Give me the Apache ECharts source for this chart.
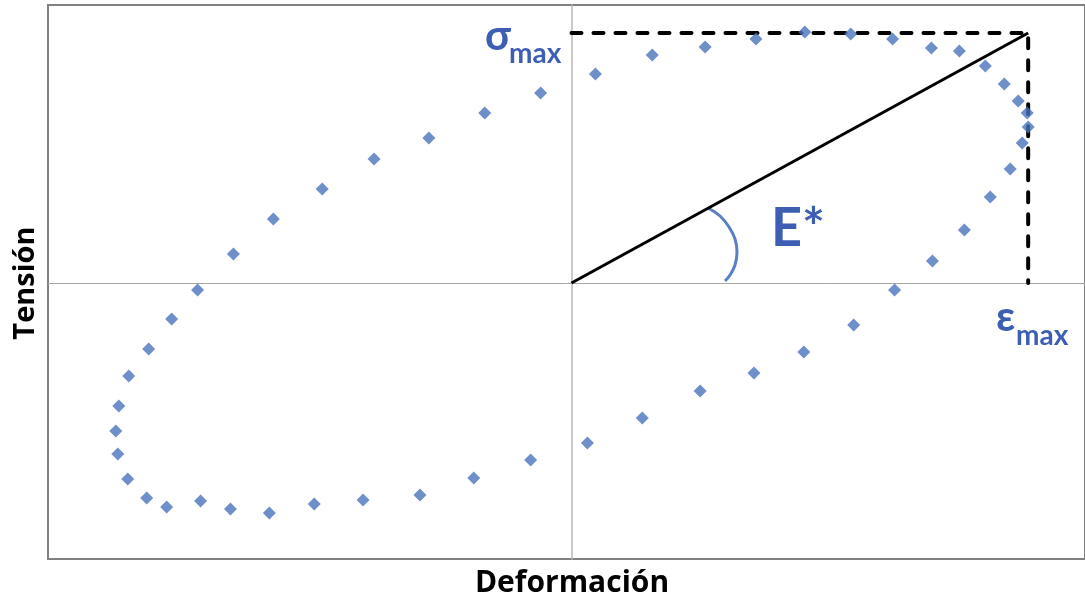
<!DOCTYPE html>
<html>
<head>
<meta charset="utf-8">
<script src="https://cdn.jsdelivr.net/npm/echarts@6/dist/echarts.min.js"></script>
<style>html,body{margin:0;padding:0;background:#fff}#c{width:1085px;height:600px}</style>
</head>
<body>
<div id="c"></div>
<script>
// Hysteresis loop points (deformación, tensión) in chart units
const loopX = [24,81,134,185,234,280,322,361,389,415,434,448,457,458,452,440,420,394,362,324,283,233,183,129,71,16,-41,-98,-152,-209,-258,-303,-342,-372,-406,-426,-445,-455,-457,-454,-444,-424,-401,-375,-339,-299,-250,-198,-143,-87,-31];
const loopY = [209,228,236,244,251,249,244,235,232,217,199,182,170,156,140,114,86,53,22,-7,-42,-69,-90,-108,-135,-160,-177,-195,-212,-217,-221,-230,-226,-218,-224,-215,-196,-171,-148,-123,-93,-66,-36,-7,29,64,94,124,145,170,190];
const epsMax = 458;
const sigmaMax = 250;
// Angle arc (E*) points
const arcX = [137,149,158,164,166,164,159,154];
const arcY = [75,67,56,44,31,18,8,2];
// Axis ranges
const xMin = -525, xMax = 515;
const yMin = -276, yMax = 278;
// Texts
const xTitle = 'Deformación';
const yTitle = 'Tensión';

const blue = '#4a73bd';
const txtBlue = '#3d5fb3';

const loopData = loopX.map((x,i)=>[x, loopY[i]]);
const arcData = arcX.map((x,i)=>[x, arcY[i]]);

const chart = echarts.init(document.getElementById('c'), null, {renderer:'canvas'});
const font = 'Lato, "Open Sans", sans-serif';
const tfont = '"Open Sans", sans-serif';
chart.setOption({
  animation:false,
  backgroundColor:'#fff',
  grid:{left:48, right:-3, top:5, bottom:41, show:true, borderColor:'#808080', borderWidth:2},
  xAxis:{type:'value', min:xMin, max:xMax,
    axisLine:{show:true, onZero:true, lineStyle:{color:'#a6a6a6', width:1}},
    axisTick:{show:false}, axisLabel:{show:false}, splitLine:{show:false}},
  yAxis:{type:'value', min:yMin, max:yMax,
    axisLine:{show:true, onZero:true, lineStyle:{color:'#b8b8b8', width:1.5}},
    axisTick:{show:false}, axisLabel:{show:false}, splitLine:{show:false}},
  series:[
    {type:'line', data:[[0,sigmaMax],[epsMax,sigmaMax],[epsMax,0]], symbol:'none',
      lineStyle:{color:'#000', width:4, type:[10,12], cap:'round'}, z:2},
    {type:'line', data:[], markLine:{silent:true, symbol:['none','arrow'], symbolSize:[0,13],
      label:{show:false}, lineStyle:{color:'#000', width:3, type:'solid'},
      data:[[{coord:[0,0]},{coord:[epsMax,sigmaMax]}]]}, z:3},
    {type:'line', data:arcData, smooth:0.4, symbol:'none', lineStyle:{color:'#5a80c4', width:3}, z:3},
    {type:'scatter', data:loopData, symbol:'diamond', symbolSize:13, itemStyle:{color:blue}, z:4}
  ],
  graphic:[
    {type:'text', x:572, y:598, style:{text:xTitle, font:'bold 30px '+tfont, fill:'#000', textAlign:'center', textVerticalAlign:'bottom'}},
    {type:'text', x:26, y:283, rotation:Math.PI/2, style:{text:yTitle, font:'bold 29px '+tfont, fill:'#000', textAlign:'center', textVerticalAlign:'middle'}},
    {type:'text', x:485, y:57, style:{text:'σ', font:'bold 42px '+font, fill:txtBlue, textAlign:'left', textVerticalAlign:'bottom'}},
    {type:'text', x:509, y:68, style:{text:'max', font:'bold 28px '+font, fill:txtBlue, textAlign:'left', textVerticalAlign:'bottom'}},
    {type:'text', x:996, y:338, style:{text:'ε', font:'bold 42px '+font, fill:txtBlue, textAlign:'left', textVerticalAlign:'bottom'}},
    {type:'text', x:1016, y:350, style:{text:'max', font:'bold 28px '+font, fill:txtBlue, textAlign:'left', textVerticalAlign:'bottom'}},
    {type:'text', x:771, y:256, style:{text:'E*', font:'bold 54px '+font, fill:txtBlue, textAlign:'left', textVerticalAlign:'bottom'}}
  ]
});
</script>
</body>
</html>
